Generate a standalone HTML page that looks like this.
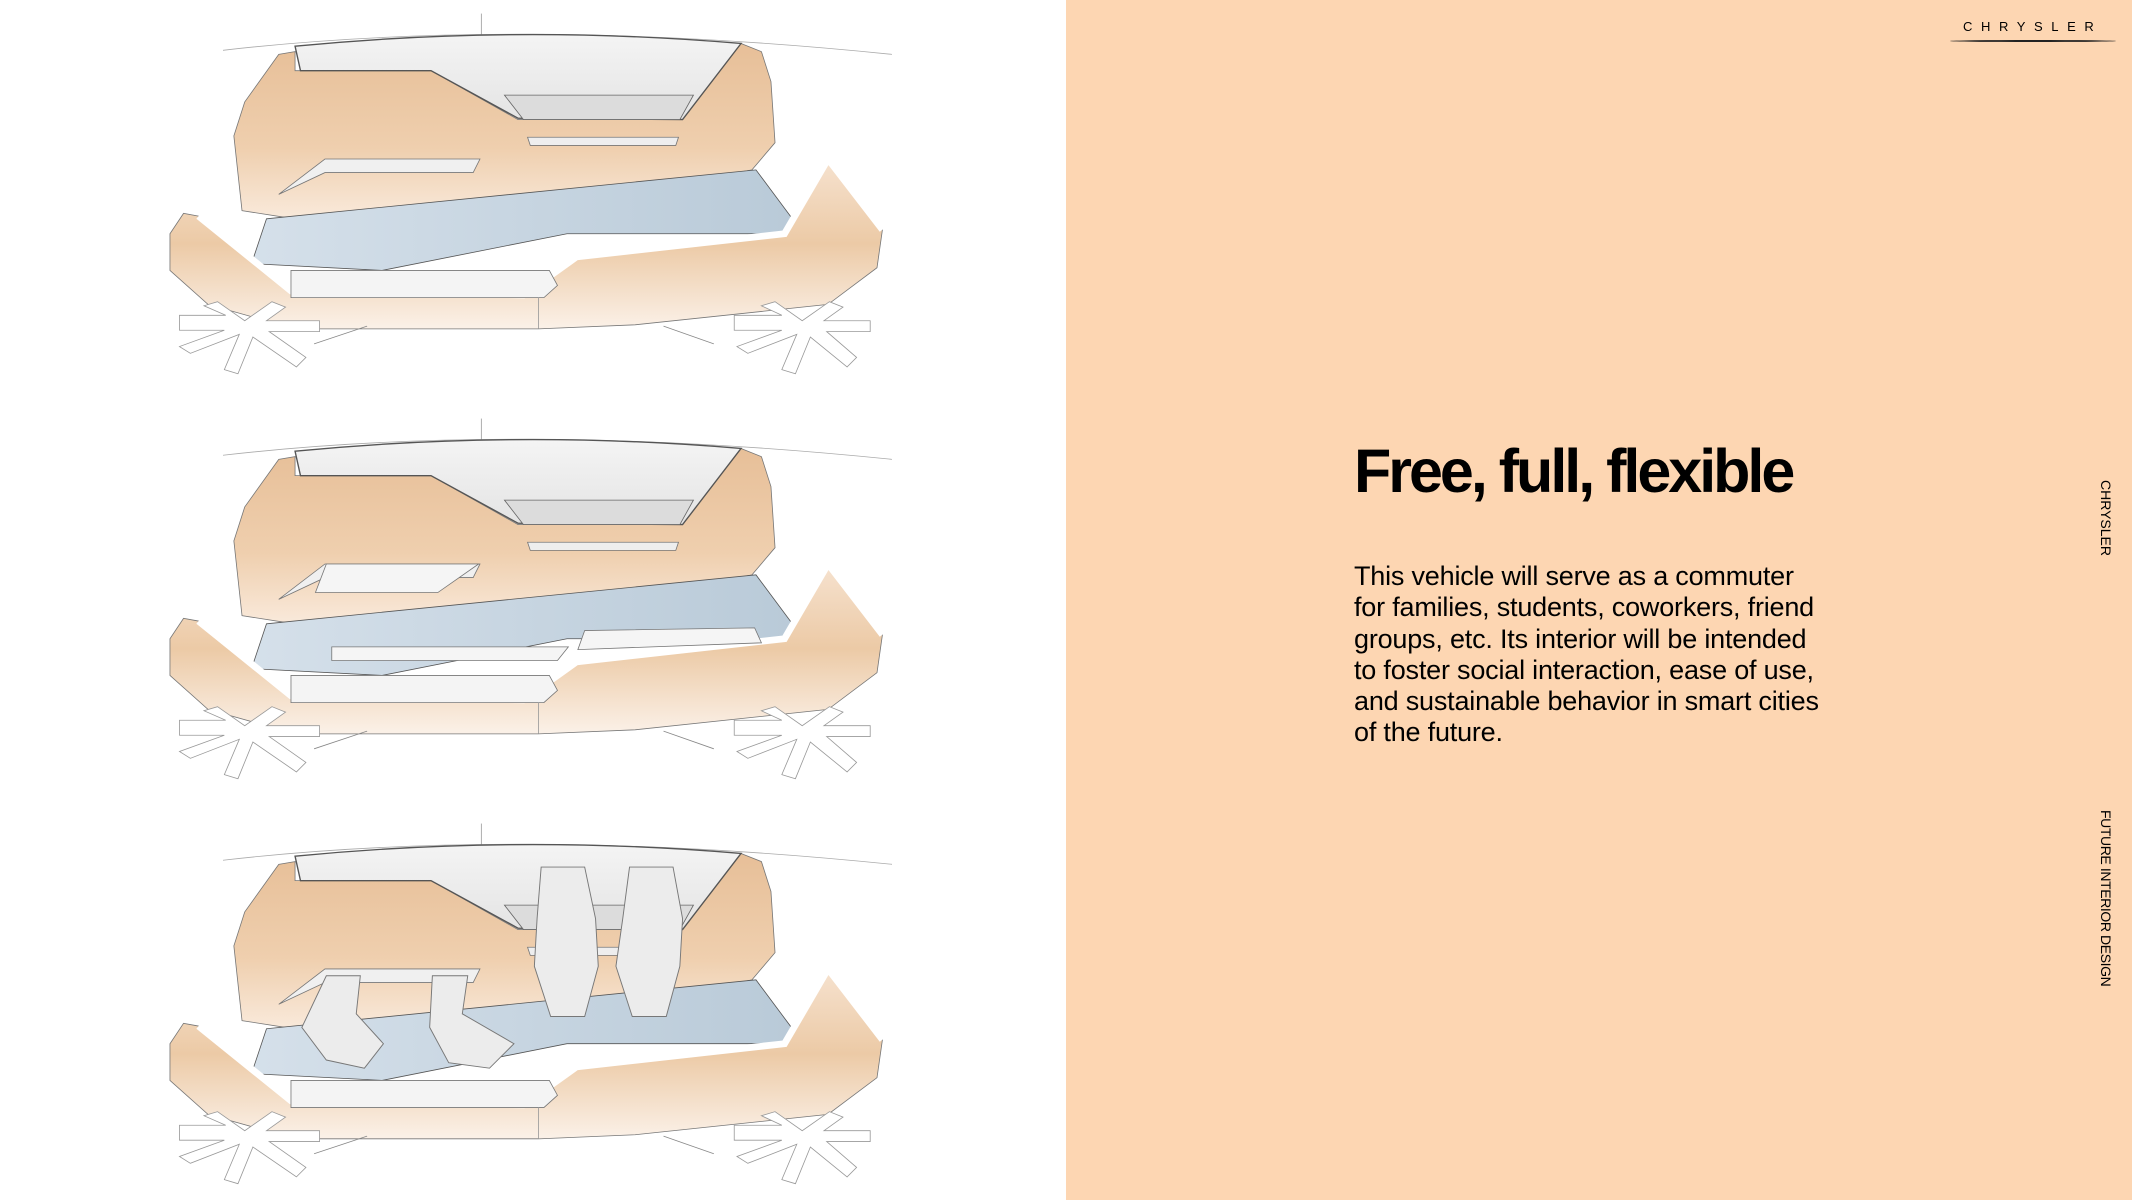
<!DOCTYPE html>
<html><head><meta charset="utf-8"><style>
html,body{margin:0;padding:0}
body{width:2132px;height:1200px;position:relative;overflow:hidden;background:#fff;font-family:"Liberation Sans",Arial,sans-serif}
#panel{position:absolute;left:1066px;top:0;width:1066px;height:1200px;background:#fdd6b2}
svg{position:absolute;left:0;top:0}
.t{position:absolute;color:#000}
</style></head><body>
<div id="panel"></div>
<svg width="1066" height="1200" viewBox="0 0 784 883" preserveAspectRatio="none">
<defs>
<linearGradient id="tan" x1="0" y1="0" x2="0" y2="1"><stop offset="0" stop-color="#e7bf98"/><stop offset="0.6" stop-color="#efcfae"/><stop offset="1" stop-color="#f9e9da"/></linearGradient>
<linearGradient id="tan2" x1="0" y1="0" x2="0" y2="1"><stop offset="0" stop-color="#f6e2cf"/><stop offset="0.5" stop-color="#eccaa6"/><stop offset="1" stop-color="#fbf1e8"/></linearGradient>
<linearGradient id="blue" x1="0" y1="0" x2="1" y2="0"><stop offset="0" stop-color="#d5e0ea"/><stop offset="1" stop-color="#b9cad8"/></linearGradient>
<linearGradient id="roof" x1="0" y1="0" x2="0" y2="1"><stop offset="0" stop-color="#f4f4f4"/><stop offset="1" stop-color="#e4e4e4"/></linearGradient>
<g id="sk" stroke="#777" stroke-width="0.6" fill="none">
<path d="M164,37 Q381,12 656,40" stroke="#aaa"/>
<line x1="354" y1="10" x2="354" y2="88" stroke="#999"/>
<path d="M178,155 L172,100 L180,75 L205,40 L217,38 L217,52 L317,52 L381,88 L502,88 L545,32 L560,38 L567,60 L570,105 L553,125 L378,158 L210,160 Z" fill="url(#tan)"/>
<path d="M217,34 Q381,18 545,32 L502,88 L381,87 L317,52 L221,52 Z" fill="url(#roof)" stroke="#555" stroke-width="1"/>
<path d="M371,70 L510,70 L500,88 L385,88 Z" fill="#dcdcdc" stroke="#666"/>
<path d="M388,101 L499,101 L497,107 L390,107 Z" fill="#eee" stroke="#777"/>
<path d="M239,117 L353,117 L348,127 L239,127 L205,143 Z" fill="#f0f0f0" stroke="#777"/>
<path d="M196,161 L556,125 L585,164 L574,172 L417,172 L281,199 L185,194 Z" fill="url(#blue)" stroke="#555"/>
<path d="M125,199 L125,172 L135,157 L146,159 L214,214 L385,217 L424,189 L577,172 L609,117 L649,169 L645,197 L609,224 L467,239 L396,242 L217,242 L153,224 Z" fill="url(#tan2)"/>
<path d="M146,159 L214,214 L385,217 L424,189 L577,172 L609,117 L649,169" stroke="#fff" stroke-width="5"/>
<path d="M214,199 L404,199 L410,210 L400,219 L214,219 Z" fill="#f4f4f4" stroke="#777"/>
<line x1="396" y1="219" x2="396" y2="242" stroke="#999"/>
<path d="M231,253 L270,240 M488,240 L525,253" stroke="#888"/>
<g fill="#fff" stroke="#999">
<path d="M132,232 L166,232 L150,225 L160,222 L180,236 L200,222 L210,226 L196,236 L235,236 L235,244 L198,244 L225,263 L218,270 L186,248 L175,275 L165,272 L176,246 L140,260 L132,255 L165,243 L132,243 Z"/>
<path d="M540,232 L575,232 L560,225 L570,222 L590,236 L610,222 L620,226 L606,236 L640,236 L640,244 L608,244 L630,263 L623,270 L596,248 L585,275 L575,272 L586,246 L550,260 L542,255 L575,243 L540,243 Z"/>
</g>
</g>
</defs>
<use href="#sk"/>
<use href="#sk" transform="translate(0,298)"/>
<use href="#sk" transform="translate(0,596)"/>
<g transform="translate(0,298)" fill="#f5f5f5" stroke="#777" stroke-width="0.6">
<path d="M240,117 L352,117 L322,138 L232,138 Z"/>
<path d="M244,178 L418,178 L410,188 L244,188 Z"/>
<path d="M430,166 L555,164 L560,175 L425,180 Z"/>
</g>
<g transform="translate(0,596)" fill="#ececec" stroke="#777" stroke-width="0.7">
<path d="M398,42 L430,42 L438,80 L440,115 L430,152 L405,152 L393,115 L395,80 Z"/>
<path d="M463,42 L495,42 L502,80 L500,115 L490,152 L465,152 L453,115 L458,80 Z"/>
<path d="M240,122 L265,122 L262,150 L282,172 L268,190 L240,184 L222,160 Z"/>
<path d="M318,122 L344,122 L340,150 L378,172 L360,190 L330,186 L316,160 Z"/>
</g>
</svg>
<div class="t" style="left:1354px;top:436px;font-size:61px;font-weight:bold;letter-spacing:-3px;white-space:nowrap">Free, full, flexible</div>
<div class="t" style="left:1354px;top:561px;font-size:27px;line-height:31.3px;letter-spacing:-0.2px;width:540px">This vehicle will serve as a commuter<br>for families, students, coworkers, friend<br>groups, etc. Its interior will be intended<br>to foster social interaction, ease of use,<br>and sustainable behavior in smart cities<br>of the future.</div>
<div class="t" style="left:1963px;top:19px;font-size:13px;letter-spacing:8.6px;white-space:nowrap">CHRYSLER</div>
<div style="position:absolute;left:1950px;top:40px;width:166px;height:2px;background:#222;border-radius:50%"></div>
<div class="t" style="left:2094px;top:480px;font-size:14px;white-space:nowrap;transform-origin:0 0;transform:translate(20px,0) rotate(90deg)">CHRYSLER</div>
<div class="t" style="left:2094px;top:810px;font-size:14px;letter-spacing:-0.4px;white-space:nowrap;transform-origin:0 0;transform:translate(20px,0) rotate(90deg)">FUTURE INTERIOR DESIGN</div>
</body></html>
